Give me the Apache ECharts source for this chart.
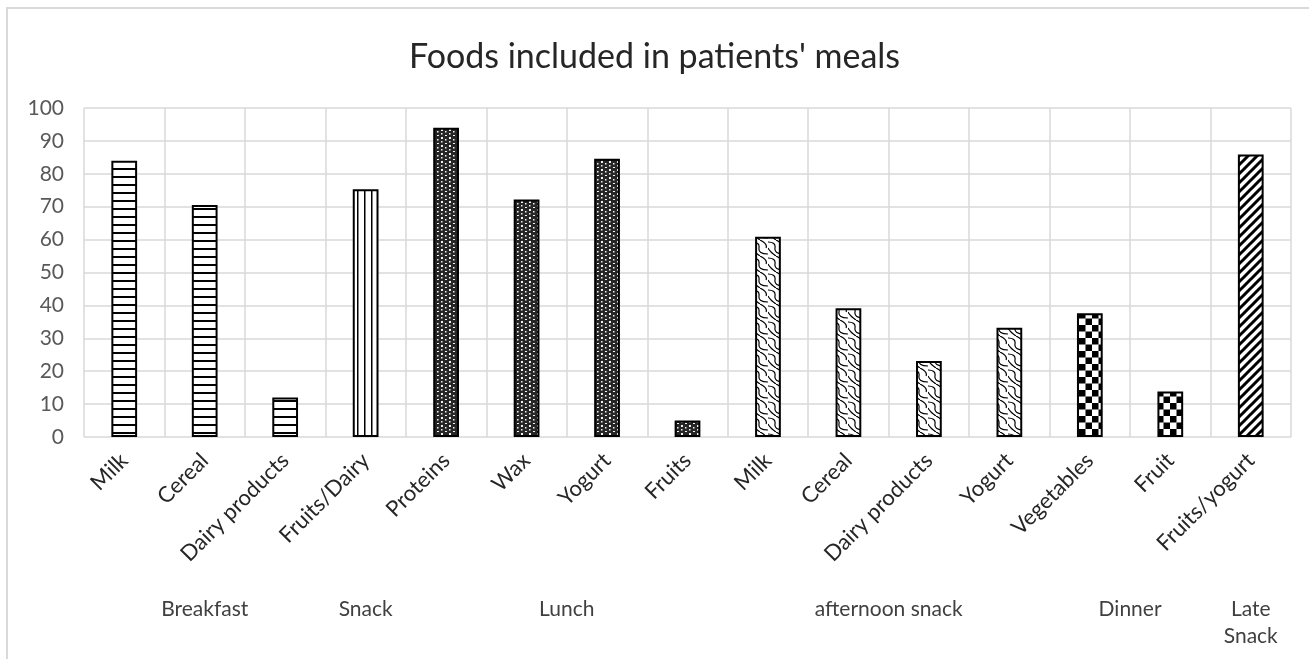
<!DOCTYPE html>
<html>
<head>
<meta charset="utf-8">
<script src="https://cdn.jsdelivr.net/npm/echarts@6/dist/echarts.min.js"></script>
<style>
  html, body { margin: 0; padding: 0; background: #fff; }
  #main { width: 1309px; height: 659px; }
</style>
</head>
<body>
<div id="main"></div>
<script>
  // foods, one bar each
  var foods = ['Milk', 'Cereal', 'Dairy products', 'Fruits/Dairy', 'Proteins', 'Wax', 'Yogurt', 'Fruits',
    'Milk', 'Cereal', 'Dairy products', 'Yogurt', 'Vegetables', 'Fruit', 'Fruits/yogurt'];
  var percents = [84, 70.5, 12, 75.3, 94, 72.2, 84.6, 5, 60.9, 39.1, 23.1, 33.2, 37.6, 13.8, 85.9];
  // which meal each food belongs to
  var mealOfFood = [0, 0, 0, 1, 2, 2, 2, 2, 3, 3, 3, 3, 4, 4, 5];
  var meals = ['Breakfast', 'Snack', 'Lunch', 'afternoon snack', 'Dinner', 'Late\nSnack'];
  var yTicks = [0, 10, 20, 30, 40, 50, 60, 70, 80, 90, 100];

  var FONT = 'Lato, "Open Sans", sans-serif';

  // canvas tiles that imitate the Excel fill patterns
  function tile(w, h, draw) {
    var c = document.createElement('canvas');
    c.width = w; c.height = h;
    var ctx = c.getContext('2d');
    draw(ctx, w, h);
    return { image: c, repeat: 'repeat' };
  }

  var patterns = [
    // horizontal lines
    tile(8, 8, function (ctx, w, h) {
      ctx.fillStyle = '#fff'; ctx.fillRect(0, 0, w, h);
      ctx.fillStyle = '#000'; ctx.fillRect(0, 0, w, 2);
    }),
    // vertical lines
    tile(7, 8, function (ctx, w, h) {
      ctx.fillStyle = '#fff'; ctx.fillRect(0, 0, w, h);
      ctx.fillStyle = '#000'; ctx.fillRect(0, 0, 1.5, h);
    }),
    // dark with light dots
    tile(8, 8, function (ctx, w, h) {
      ctx.fillStyle = '#262626'; ctx.fillRect(0, 0, w, h);
      ctx.fillStyle = '#f2f2f2';
      ctx.fillRect(1, 1, 2, 2); ctx.fillRect(5, 3, 1.5, 1.5);
      ctx.fillRect(1, 5, 1.5, 1.5); ctx.fillRect(5, 7, 2, 1);
    }),
    // wavy scales
    tile(16, 16, function (ctx, w, h) {
      ctx.fillStyle = '#fff'; ctx.fillRect(0, 0, w, h);
      ctx.strokeStyle = '#000'; ctx.lineWidth = 1.2;
      ctx.beginPath();
      ctx.moveTo(0, 2); ctx.quadraticCurveTo(8, 2, 7, 8); ctx.quadraticCurveTo(6, 14, 16, 14);
      ctx.moveTo(8, 0); ctx.quadraticCurveTo(16, 4, 14, 8);
      ctx.moveTo(0, 8); ctx.quadraticCurveTo(2, 12, 8, 16);
      ctx.stroke();
    }),
    // checkerboard
    tile(13, 13, function (ctx, w, h) {
      ctx.fillStyle = '#fff'; ctx.fillRect(0, 0, w, h);
      ctx.fillStyle = '#000';
      ctx.fillRect(0, 0, 6.5, 6.5); ctx.fillRect(6.5, 6.5, 6.5, 6.5);
    }),
    // wide diagonal stripes
    tile(9, 9, function (ctx, w, h) {
      ctx.fillStyle = '#fff'; ctx.fillRect(0, 0, w, h);
      ctx.strokeStyle = '#000'; ctx.lineWidth = 3;
      ctx.beginPath();
      ctx.moveTo(-2, h + 2); ctx.lineTo(w + 2, -2);
      ctx.moveTo(-2, 2); ctx.lineTo(2, -2);
      ctx.moveTo(w - 2, h + 2); ctx.lineTo(w + 2, h - 2);
      ctx.stroke();
    })
  ];

  // centre of each meal in category units
  var mealCenters = meals.map(function (m, g) {
    var idx = [];
    mealOfFood.forEach(function (v, i) { if (v === g) idx.push(i); });
    return (idx[0] + idx[idx.length - 1]) / 2;
  });

  var barData = percents.map(function (v, i) {
    return {
      value: v,
      itemStyle: { color: patterns[mealOfFood[i]] }
    };
  });

  var chart = echarts.init(document.getElementById('main'));

  chart.setOption({
    animation: false,
    backgroundColor: '#fff',
    textStyle: { fontFamily: FONT },
    title: {
      text: "Foods included in patients' meals",
      left: 'center',
      top: 35,
      textStyle: { fontFamily: FONT, fontSize: 34, fontWeight: 'normal', color: '#262626' }
    },
    graphic: [{
      type: 'rect',
      shape: { x: 7, y: 8, width: 1400, height: 700 },
      style: { fill: 'none', stroke: '#d9d9d9', lineWidth: 2 },
      silent: true
    }],
    grid: {
      left: 84, right: 18, top: 108, bottom: 222,
      outerBoundsMode: 'none'
    },
    xAxis: [{
      type: 'category',
      data: foods,
      position: 'bottom',
      axisLine: { show: false },
      axisTick: { show: false },
      splitLine: { show: true, lineStyle: { color: '#d9d9d9', width: 1.5 } },
      axisLabel: {
        interval: 0,
        rotate: 45,
        margin: 20,
        fontFamily: FONT,
        fontSize: 22,
        color: '#262626'
      }
    }, {
      type: 'value',
      position: 'bottom',
      min: -0.5,
      max: 14.5,
      interval: 0.5,
      axisLine: { show: false },
      axisTick: { show: false },
      splitLine: { show: false },
      axisLabel: {
        margin: 159,
        fontFamily: FONT,
        fontSize: 21,
        lineHeight: 27,
        color: '#404040',
        showMinLabel: true,
        showMaxLabel: true,
        formatter: function (v) {
          for (var i = 0; i < mealCenters.length; i++) {
            if (Math.abs(mealCenters[i] - v) < 0.01) return meals[i];
          }
          return '';
        }
      }
    }],
    yAxis: {
      type: 'value',
      min: yTicks[0],
      max: yTicks[yTicks.length - 1],
      interval: 10,
      axisLine: { show: false },
      axisTick: { show: false },
      splitLine: { lineStyle: { color: '#d9d9d9', width: 1.5 } },
      axisLabel: {
        margin: 20,
        fontFamily: FONT,
        fontSize: 21,
        color: '#595959'
      }
    },
    series: [{
      type: 'bar',
      xAxisIndex: 0,
      barWidth: '32%',
      data: barData,
      itemStyle: { borderColor: '#000', borderWidth: 2 }
    }]
  });
</script>
</body>
</html>
